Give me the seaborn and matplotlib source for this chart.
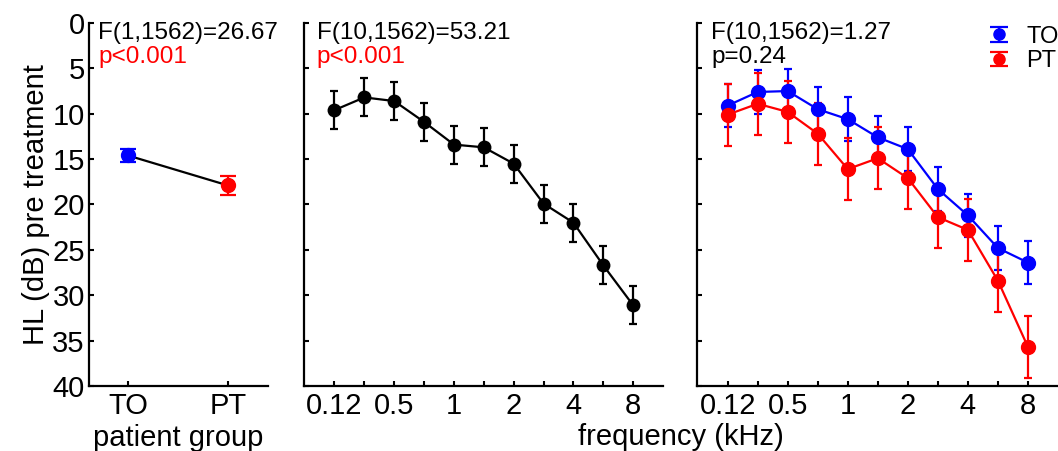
import numpy as np
import pandas as pd
import matplotlib
matplotlib.use("Agg")
import matplotlib.pyplot as plt
from matplotlib.legend_handler import HandlerErrorbar
from matplotlib.container import ErrorbarContainer
import seaborn as sns

# ---------------- data ----------------
group_names = ["TO", "PT"]
group_means = [14.6, 17.9]
group_err = [0.7, 1.0]

freqs_khz = [0.125, 0.25, 0.5, 0.75, 1, 1.5, 2, 3, 4, 6, 8]
freq_ticklabels = ["0.12", "", "0.5", "", "1", "", "2", "", "4", "", "8"]

overall_means = [9.6, 8.2, 8.6, 10.9, 13.4, 13.7, 15.5, 19.9, 22.0, 26.7, 31.1]
overall_err = [2.1, 2.1, 2.1, 2.1, 2.1, 2.1, 2.1, 2.1, 2.1, 2.1, 2.1]

to_means = [9.1, 7.6, 7.5, 9.5, 10.6, 12.6, 13.9, 18.3, 21.2, 24.8, 26.4]
to_err = [2.4, 2.4, 2.4, 2.4, 2.4, 2.4, 2.4, 2.4, 2.4, 2.4, 2.4]
pt_means = [10.1, 8.9, 9.8, 12.2, 16.1, 14.9, 17.1, 21.4, 22.8, 28.4, 35.7]
pt_err = [3.4, 3.4, 3.4, 3.4, 3.4, 3.4, 3.4, 3.4, 3.4, 3.4, 3.4]

stats_text = [("F(1,1562)=26.67", "p<0.001", "red"),
              ("F(10,1562)=53.21", "p<0.001", "red"),
              ("F(10,1562)=1.27", "p=0.24", "black")]

yticks = [0, 5, 10, 15, 20, 25, 30, 35, 40]

# ---------------- style ----------------
sns.set_theme(style="ticks")
plt.rcParams["font.family"] = ["Liberation Sans", "DejaVu Sans"]
plt.rcParams["axes.linewidth"] = 1.6
for k in ("text.color", "axes.labelcolor", "xtick.color", "ytick.color",
          "axes.edgecolor"):
    plt.rcParams[k] = "black"

BLUE = "#0000ff"
RED = "#ff0000"
MS = 10
LW = 1.6
TICK_FS = 21
ANN_FS = 17.5

fig = plt.figure(figsize=(10.58, 4.51), dpi=100)
H = 451.0
W = 1058.0
def rect(x0, x1, y0, y1):
    return [x0 / W, 1 - y1 / H, (x1 - x0) / W, (y1 - y0) / H]

ax1 = fig.add_axes(rect(89, 268, 23, 386))
ax2 = fig.add_axes(rect(304, 663, 23, 386))
ax3 = fig.add_axes(rect(697, 1058, 23, 386))

# ---- panel 1: patient group ----
gx = np.arange(len(group_names))
df_g = pd.DataFrame({"x": gx, "HL": group_means, "group": group_names})
sns.lineplot(data=df_g, x="x", y="HL", color="black", linewidth=LW, ax=ax1)
for xi, m, e, c in zip(gx, group_means, group_err, [BLUE, RED]):
    ax1.errorbar([xi], [m], yerr=[e], fmt="o", color=c, ms=MS, mec=c,
                 ecolor=c, elinewidth=LW, capsize=5.5, capthick=LW, zorder=3)
ax1.set_xlim(-0.39, 1.4)
ax1.set_xticks(gx)
ax1.set_xticklabels(group_names)
ax1.set_xlabel("patient group", fontsize=TICK_FS, labelpad=3)
ax1.set_ylabel("HL (dB) pre treatment", fontsize=TICK_FS, labelpad=2)

# ---- panel 2: frequency overall ----
fx = np.arange(len(freqs_khz))
df_f = pd.DataFrame({"x": fx, "HL": overall_means})
sns.lineplot(data=df_f, x="x", y="HL", color="black", linewidth=LW,
             marker="o", markersize=MS, markeredgewidth=0, ax=ax2)
ax2.errorbar(fx, overall_means, yerr=overall_err, fmt="none", ecolor="black",
             elinewidth=LW, capsize=3, capthick=LW)

# ---- panel 3: frequency x group ----
df_to = pd.DataFrame({"x": fx, "HL": to_means})
df_pt = pd.DataFrame({"x": fx, "HL": pt_means})
handles = []
for d, m, e, c, lab in [(df_to, to_means, to_err, BLUE, "TO"),
                        (df_pt, pt_means, pt_err, RED, "PT")]:
    sns.lineplot(data=d, x="x", y="HL", color=c, linewidth=LW, ax=ax3)
    ax3.errorbar(fx, m, yerr=e, fmt="o", color=c, ms=MS, mec=c,
                 ecolor=c, elinewidth=LW, capsize=3, capthick=LW)
    # invisible legend proxy (NaN data) with wide caps as in the original legend
    h = ax3.errorbar([np.nan], [np.nan], yerr=[1.0], fmt="o", color=c, ms=8,
                     mec=c, ecolor=c, elinewidth=LW, capsize=6.5, capthick=LW)
    handles.append(h)
ax3.legend(handles=handles, labels=["TO", "PT"], loc="upper right",
           bbox_to_anchor=(1.035, 1.025), frameon=False, fontsize=17,
           handlelength=1.3, handletextpad=0.5, labelspacing=0.1,
           borderpad=0.0,
           handler_map={ErrorbarContainer: HandlerErrorbar(xerr_size=0.5,
                                                           yerr_size=0.3)})

for ax in (ax2, ax3):
    ax.set_xlim(-1.02, 11)
    ax.set_xticks(fx)
    ax.set_xticklabels(freq_ticklabels)
    ax.set_xlabel("")
    ax.set_ylabel("")

fig.text(681 / W, 1 - 437 / H, "frequency (kHz)", ha="center", va="center",
         fontsize=TICK_FS)

for ax, (ftxt, ptxt, pcol), tx in zip((ax1, ax2, ax3), stats_text,
                                       (0.053, 0.035, 0.04)):
    ax.set_ylim(40, 0)
    ax.set_yticks(yticks)
    if ax is not ax1:
        ax.set_yticklabels([])
    ax.tick_params(axis="both", direction="in", length=3.5, width=1.5,
                   labelsize=TICK_FS, pad=4)
    ax.tick_params(axis="y", pad=3)
    sns.despine(ax=ax)
    ax.text(tx, 0.973, ftxt, transform=ax.transAxes, ha="left", va="center",
            fontsize=ANN_FS, color="black")
    ax.text(tx, 0.907, ptxt, transform=ax.transAxes, ha="left", va="center",
            fontsize=ANN_FS, color=pcol)

fig.savefig("out.png", dpi=100)
